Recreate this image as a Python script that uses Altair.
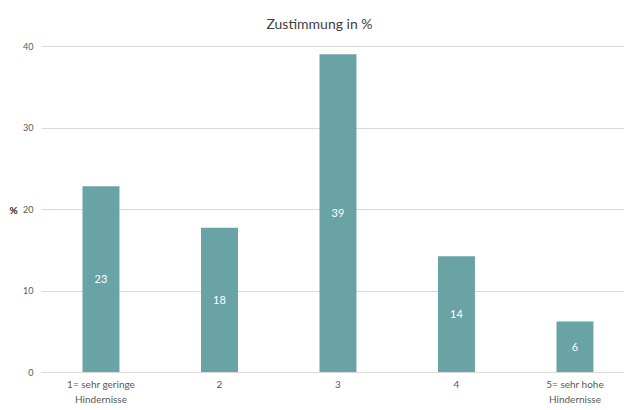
import altair as alt
import pandas as pd

categories = ["1= sehr geringe\nHindernisse", "2", "3", "4", "5= sehr hohe\nHindernisse"]
values = [22.8, 17.7, 39.0, 14.2, 6.2]
labels = ["23", "18", "39", "14", "6"]

df = pd.DataFrame({"cat": categories, "val": values, "lab": labels})

FONT = "Lato"

x = alt.X(
    "cat:N",
    sort=categories,
    title=None,
    scale=alt.Scale(paddingInner=0.688, paddingOuter=0.304, align=0.576),
    axis=alt.Axis(
        labelAngle=0,
        labelExpr="split(datum.label, '\\n')",
        labelFont=FONT,
        labelFontSize=10,
        labelColor="#595959",
        labelPadding=7,
        labelLineHeight=15,
        ticks=False,
        domainColor="#d9d9d9",
        domainWidth=1,
        grid=False,
    ),
)

y = alt.Y(
    "val:Q",
    scale=alt.Scale(domain=[0, 40]),
    title="%",
    axis=alt.Axis(
        values=[0, 10, 20, 30, 40],
        labelFont=FONT,
        labelFontSize=9,
        labelColor="#595959",
        labelPadding=8,
        ticks=False,
        domain=False,
        gridColor="#d9d9d9",
        gridWidth=1,
        titleAngle=0,
        titleX=-28,
        titleY=164,
        titleAlign="center",
        titleBaseline="middle",
        titleFont=FONT,
        titleFontSize=10,
        titleFontWeight="bold",
        titleColor="#262626",
    ),
)

bars = alt.Chart(df).mark_bar(color="#6aa3a6").encode(x=x, y=y)

text = alt.Chart(df).mark_text(
    color="white", font=FONT, fontSize=11, baseline="middle", dy=1
).encode(
    x=alt.X("cat:N", sort=categories),
    y=alt.Y("mid:Q"),
    text="lab:N",
).transform_calculate(mid="datum.val / 2")

chart = (
    alt.layer(bars, text)
    .properties(
        width=583,
        height=326,
        title=alt.TitleParams(
            "Zustimmung in %",
            font=FONT,
            fontSize=14,
            fontWeight="normal",
            color="#404040",
            anchor="middle",
            dx=-13,
            offset=10,
        ),
        padding={"left": 41, "top": 46, "right": 0, "bottom": 38},
        autosize=alt.AutoSizeParams(type="none"),
    )
    .configure_view(stroke=None)
)

chart.save("out.html", embed_options={"renderer": "svg", "actions": False})
